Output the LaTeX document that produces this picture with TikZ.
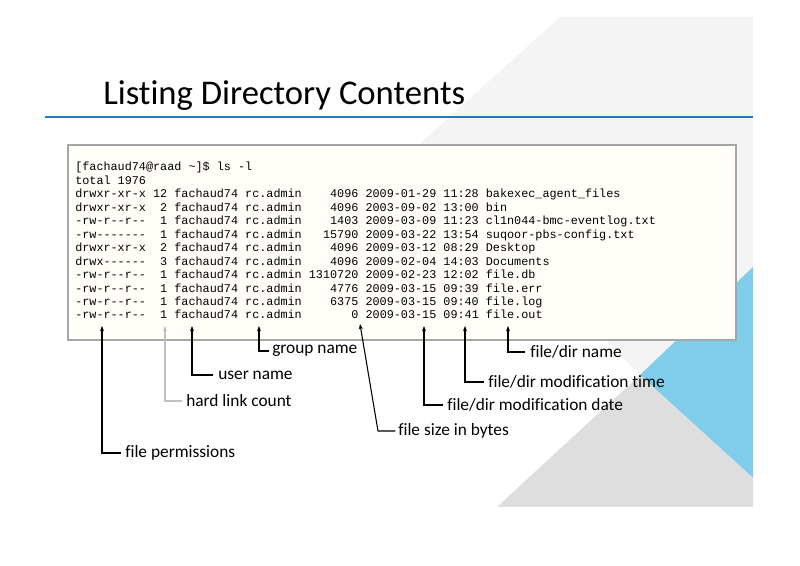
\documentclass[tikz,border=0pt]{standalone}
\usepackage{fontspec}
\setmainfont{Carlito}[Ligatures=NoCommon]
\setmonofont{Liberation Mono}
\usetikzlibrary{arrows.meta}
\definecolor{lgray}{HTML}{F4F4F4}
\definecolor{dgray}{HTML}{DEDEDE}
\definecolor{sky}{HTML}{7FCDEA}
\definecolor{rule}{HTML}{1A7FC1}
\definecolor{boxbg}{HTML}{FFFEF8}
\begin{document}
\begin{tikzpicture}[x=0.75pt,y=-0.75pt,
  ls/.style={anchor=base west,inner sep=0pt,font=\ttfamily\fontsize{8.85}{10}\selectfont},
  lbl/.style={anchor=west,inner sep=0pt,font=\fontsize{13}{15}\selectfont},
  ptr/.style={draw=black,line width=0.8pt,{Stealth[length=4pt,width=3pt]}-}]
\useasboundingbox (0,0) rectangle (800,566);
\fill[white] (0,0) rectangle (800,566);
% background
\fill[lgray] (560,17) -- (753,17) -- (753,267) -- (640,375) -- (414,149) -- cycle;
\fill[sky] (753,267) -- (753,478) -- (640,375) -- cycle;
\fill[dgray] (640,375) -- (753,478) -- (753,507) -- (497,507) -- cycle;
% title
\node[anchor=base west,inner sep=0pt,font=\fontsize{26}{30}\selectfont] (title) at (103,105) {Listing Directory Contents};
\draw[rule,line width=2.2pt] (45,117) -- (753,117);
% box
\draw[gray!70,fill=boxbg,line width=0.8pt] (68,145) rectangle (736,340);
\node[ls] (l1) at (75,171) {[fachaud74@raad~\textasciitilde]\$~ls~-l};
\node[ls] (l2) at (75,184.45) {total~1976};
\node[ls] (l3) at (75,197.9) {drwxr-xr-x~12~fachaud74~rc.admin~~~~4096~2009-01-29~11:28~bakexec\_agent\_files};
\node[ls] (l4) at (75,211.35) {drwxr-xr-x~~2~fachaud74~rc.admin~~~~4096~2003-09-02~13:00~bin};
\node[ls] (l5) at (75,224.8) {-rw-r--r--~~1~fachaud74~rc.admin~~~~1403~2009-03-09~11:23~cl1n044-bmc-eventlog.txt};
\node[ls] (l6) at (75,238.25) {-rw-------~~1~fachaud74~rc.admin~~~15790~2009-03-22~13:54~suqoor-pbs-config.txt};
\node[ls] (l7) at (75,251.7) {drwxr-xr-x~~2~fachaud74~rc.admin~~~~4096~2009-03-12~08:29~Desktop};
\node[ls] (l8) at (75,265.15) {drwx------~~3~fachaud74~rc.admin~~~~4096~2009-02-04~14:03~Documents};
\node[ls] (l9) at (75,278.6) {-rw-r--r--~~1~fachaud74~rc.admin~1310720~2009-02-23~12:02~file.db};
\node[ls] (l10) at (75,292.05) {-rw-r--r--~~1~fachaud74~rc.admin~~~~4776~2009-03-15~09:39~file.err};
\node[ls] (l11) at (75,305.5) {-rw-r--r--~~1~fachaud74~rc.admin~~~~6375~2009-03-15~09:40~file.log};
\node[ls] (l12) at (75,319) {-rw-r--r--~~1~fachaud74~rc.admin~~~~~~~0~2009-03-15~09:41~file.out};
% labels
\node[lbl] (perm) at (125,453) {file permissions};
\node[lbl] (hard) at (186,401) {hard link count};
\node[lbl] (user) at (218,375) {user name};
\node[lbl] (grp) at (272,351) {group name};
\node[lbl] (size) at (398,431) {file size in bytes};
\node[lbl] (date) at (447,405) {file/dir modification date};
\node[lbl] (time) at (488,382) {file/dir modification time};
\node[lbl] (name) at (530,352) {file/dir name};
% pointer tips
\coordinate (p1) at (102,326);
\coordinate (p2) at (165,326);
\coordinate (p3) at (192,326);
\coordinate (p4) at (259,326);
\coordinate (p5) at (360,324);
\coordinate (p5b) at (378,431);
\coordinate (p6) at (424,326);
\coordinate (p7) at (465,326);
\coordinate (p8) at (508,326);
\draw[ptr] (p1) |- ([xshift=-3pt]perm.west);
\draw[ptr,draw=gray!50] (p2) |- ([xshift=-3pt]hard.west);
\draw[ptr] (p3) |- ([xshift=-4pt]user.west);
\draw[ptr] (p4) |- ([xshift=-2pt]grp.west);
\draw[ptr] (p5) -- (p5b) -- ([xshift=-2pt]size.west);
\draw[ptr] (p6) |- ([xshift=-3pt]date.west);
\draw[ptr] (p7) |- ([xshift=-3pt]time.west);
\draw[ptr] (p8) |- ([xshift=-4pt]name.west);
\end{tikzpicture}
\end{document}
